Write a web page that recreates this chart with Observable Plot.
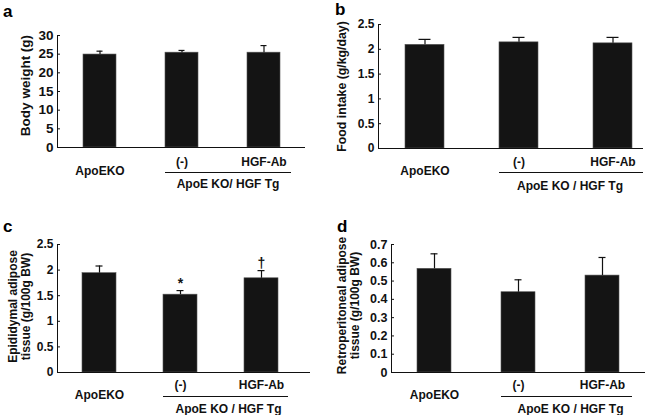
<!DOCTYPE html>
<html>
<head>
<meta charset="utf-8">
<script src="https://cdn.jsdelivr.net/npm/d3@7"></script>
<script src="https://cdn.jsdelivr.net/npm/@observablehq/plot@0.6"></script>
<style>
  html, body { margin: 0; padding: 0; background: #fff; }
  #wrap { position: relative; width: 646px; height: 415px; font-family: "Liberation Sans", Arial, sans-serif; }
  .panel { position: absolute; }
  .letter { position: absolute; font-weight: bold; font-size: 17px; line-height: 1; }
  svg { font-family: "Liberation Sans", Arial, sans-serif; }
</style>
</head>
<body>
<div id="wrap"></div>
<script>
// ---- data ----
const categories = ["ApoEKO", "(-)", "HGF-Ab"];
const groupLabel = ["ApoE KO/ HGF Tg", "ApoE KO / HGF Tg", "ApoE KO / HGF Tg", "ApoE KO / HGF Tg"];

const bodyWeight = [24.9, 25.4, 25.4];
const bodyWeightErr = [0.9, 0.6, 1.9];
const bodyWeightTicks = [0, 5, 10, 15, 20, 25, 30];

const foodIntake = [2.09, 2.14, 2.12];
const foodIntakeErr = [0.11, 0.10, 0.12];
const foodIntakeTicks = [0, 0.5, 1, 1.5, 2, 2.5];

const epididymal = [1.94, 1.52, 1.84];
const epididymalErr = [0.14, 0.08, 0.15];
const epididymalSig = ["", "*", "†"];
const epididymalTicks = [0, 0.5, 1, 1.5, 2, 2.5];

const retro = [0.567, 0.439, 0.530];
const retroErr = [0.082, 0.068, 0.099];
const retroTicks = [0, 0.1, 0.2, 0.3, 0.4, 0.5, 0.6, 0.7];

const panels = [
  {letter: "a", left: 0, top: 0, width: 323, height: 200,
   margin: [35, 18, 53, 57], pad: [0.6, 0.31, 0.5],
   values: bodyWeight, errs: bodyWeightErr, sig: null, ticks: bodyWeightTicks,
   label: "Body weight (g)", labelDx: -32, labelDy: -6, titleSize: 13.5, tickSize: 13.5, letterPos: [3, 3],
   below: {sub: 15, main: 24, rule: 25, group: 37, groupDx: 46, ruleExt: 11}},
  {letter: "b", left: 323, top: 0, width: 323, height: 200,
   margin: [24, 3, 52, 55], pad: [0.59, 0.2, 0.69],
   values: foodIntake, errs: foodIntakeErr, sig: null, ticks: foodIntakeTicks,
   label: "Food intake (g/kg/day)", labelDx: -37, labelDy: 0, titleSize: 12.3, tickSize: 12, letterPos: [335, 1],
   below: {sub: 14, main: 23, rule: 24, group: 38, groupDx: 51, ruleExt: 11}},
  {letter: "c", left: 0, top: 200, width: 323, height: 215,
   margin: [44, 13, 43, 57], pad: [0.58, 0.34, 0.43],
   values: epididymal, errs: epididymalErr, sig: epididymalSig, ticks: epididymalTicks,
   label: "Epididymal adipose\ntissue (g/100g BW)", labelDx: -38, labelDy: -2, titleSize: 12, tickSize: 12, letterPos: [3, 218],
   below: {sub: 13, main: 23, rule: 24, group: 37, groupDx: 48, ruleExt: 10}},
  {letter: "d", left: 323, top: 200, width: 323, height: 215,
   margin: [44, 1, 43, 68], pad: [0.59, 0.30, 0.5],
   values: retro, errs: retroErr, sig: null, ticks: retroTicks,
   label: "Retroperitoneal adipose\ntissue (g/100g BW)", labelDx: -43, labelDy: -3, titleSize: 12, tickSize: 12.5, letterPos: [337, 218],
   below: {sub: 13, main: 23, rule: 24, group: 37, groupDx: 52, ruleExt: 13}}
];

const wrap = document.getElementById("wrap");
const fmt = d3.format("~g");

panels.forEach((p, pi) => {
  const data = categories.map((c, i) => ({
    cat: c, v: p.values[i], hi: p.values[i] + p.errs[i], sig: p.sig ? p.sig[i] : ""
  }));
  const [mt, mr, mb, ml] = p.margin;
  const b = p.below;
  const chart = Plot.plot({
    width: p.width, height: p.height,
    marginTop: mt, marginRight: mr, marginBottom: mb, marginLeft: ml,
    style: {fontFamily: "Liberation Sans, Arial, sans-serif", fontWeight: "bold", fontSize: "12px", color: "#111", background: "transparent"},
    x: {domain: categories, axis: null, paddingInner: p.pad[0], paddingOuter: p.pad[1], align: p.pad[2]},
    y: {domain: [0, p.ticks[p.ticks.length - 1]], axis: null},
    marks: [
      Plot.barY(data, {x: "cat", y: "v", fill: "#141414", stroke: "#555", strokeWidth: 0.6}),
      Plot.ruleX(data, {x: "cat", y1: "v", y2: "hi", stroke: "#111", strokeWidth: 1.2}),
      Plot.tickY(data, {x: "cat", y: "hi", stroke: "#111", strokeWidth: 1.2, insetLeft: 13.5, insetRight: 13.5}),
      Plot.text(data, {x: "cat", y: "hi", text: "sig", lineAnchor: "bottom", dy: -3, fontSize: 14, fontWeight: "bold", fill: "#111"}),
      Plot.axisY({ticks: p.ticks, tickSize: 0, tickPadding: 4, tickFormat: fmt, label: null, fontSize: p.tickSize, fontWeight: "bold"}),
      Plot.axisY({ticks: p.ticks, tickSize: -3, text: null, label: null}),
      Plot.frame({anchor: "left", stroke: "#111"}),
      Plot.ruleY([0], {stroke: "#111", strokeWidth: 1.2}),
      // category labels
      Plot.text(data.slice(0, 1), {x: "cat", text: "cat", frameAnchor: "bottom", dy: b.main, lineAnchor: "middle", fontSize: 12, fontWeight: "bold", fill: "#111"}),
      Plot.text(data.slice(1), {x: "cat", text: "cat", frameAnchor: "bottom", dy: b.sub, lineAnchor: "middle", fontSize: 12, fontWeight: "bold", fill: "#111"}),
      Plot.ruleY([0], {x1: () => categories[1], x2: () => categories[2], dy: b.rule, insetRight: -b.ruleExt, stroke: "#111", strokeWidth: 1}),
      Plot.text([groupLabel[pi]], {x: () => categories[1], text: d => d, frameAnchor: "bottom", dy: b.group, dx: b.groupDx, lineAnchor: "middle", fontSize: 12, fontWeight: "bold", fill: "#111"}),
      // y-axis title
      Plot.text([p.label], {text: d => d, frameAnchor: "left", rotate: -90, dx: p.labelDx, dy: p.labelDy, lineAnchor: "middle", textAnchor: "middle", fontSize: p.titleSize, fontWeight: "bold", fill: "#111", lineHeight: 1.1})
    ]
  });
  chart.classList.add("panel");
  chart.style.left = p.left + "px";
  chart.style.top = p.top + "px";
  wrap.appendChild(chart);
  const L = document.createElement("div");
  L.className = "letter";
  L.textContent = p.letter;
  L.style.left = p.letterPos[0] + "px";
  L.style.top = p.letterPos[1] + "px";
  wrap.appendChild(L);
});
</script>
</body>
</html>
